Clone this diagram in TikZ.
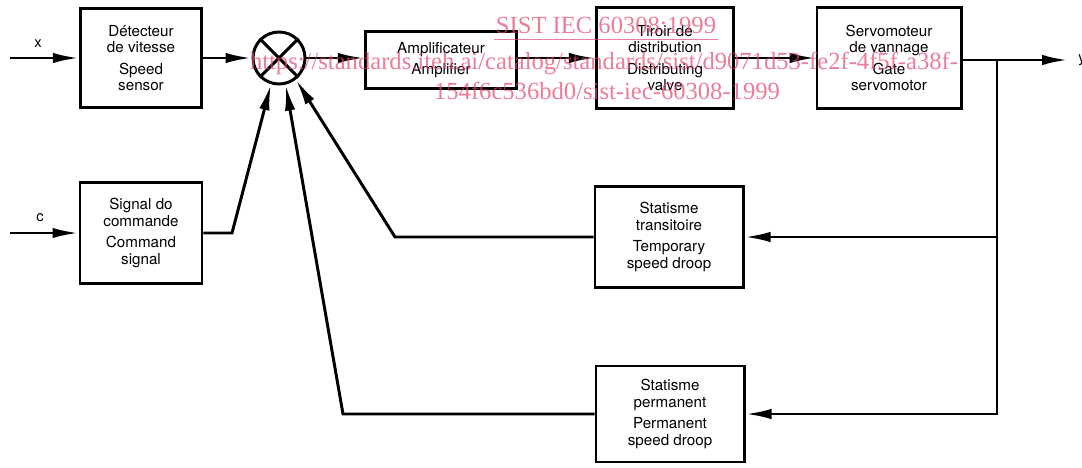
\documentclass[tikz,border=0pt]{standalone}
\usepackage{fontspec}
\setsansfont{TeX Gyre Heros}
\newfontfamily\wmfont{Liberation Serif}
\usepackage{tikz}
\usetikzlibrary{arrows.meta,shapes}
\usetikzlibrary{positioning}
\definecolor{wmpink}{RGB}{225,70,110}

\begin{document}
\begin{tikzpicture}[x=0.025cm, y=-0.025cm, line width=2.1pt, >={Latex[length=6.5mm,width=2.6mm]}]
\tikzstyle{block} = [rectangle, draw = black, line width=2.1pt, align=center, font=\sffamily\fontsize{10.8}{11.5}\selectfont, inner sep=2pt]
\tikzstyle{sig} = [font=\sffamily\fontsize{10.5}{12.5}\selectfont, inner sep=0pt]
\tikzstyle{watermark} = [wmpink, opacity=0.7, font=\wmfont\fontsize{17.5}{20}\selectfont, anchor=base, inner sep=0pt]
\useasboundingbox (0,0) rectangle (1082,467);
% forward path
\node (detector) [block, minimum width=3.03cm, minimum height=2.48cm] at (141,58) {Détecteur\\de vitesse\\[4pt]Speed\\sensor};
\node (sum) [circle, draw, minimum size=1.3cm, inner sep=0pt] at (279,58) {};
\draw (sum.north west) -- (sum.south east);
\draw (sum.north east) -- (sum.south west);
\node (amplifier) [block, minimum width=3.78cm, minimum height=1.43cm] at (441,60) {Amplificateur\\[4pt]Amplifier};
\node (valve) [block, minimum width=3.43cm, minimum height=2.53cm] at (665,58) {Tiroir de\\distribution\\[4pt]Distributing\\valve};
\node (servo) [block, minimum width=3.6cm, minimum height=2.53cm] at (889,58) {Servomoteur\\de vannage\\[4pt]Gate\\servomotor};
% command and feedback blocks
\node (command) [block, minimum width=3.05cm, minimum height=2.53cm] at (141,233) {Signal do\\commande\\[4pt]Command\\signal};
\node (temporary) [block, minimum width=3.7cm, minimum height=2.53cm] at (669,237) {Statisme\\transitoire\\[4pt]Temporary\\speed droop};
\node (permanent) [block, minimum width=3.7cm, minimum height=2.4cm] at (670,414) {Statisme\\permanent\\[4pt]Permanent\\speed droop};
% signals
\node (xlabel) [sig] at (38,44) {x};
\node (clabel) [sig] at (40,218) {c};
\node (ylabel) [sig, anchor=west] at (1077,60) {y};
\coordinate (xin) at (10,58);
\coordinate (cin) at (10,233);
\coordinate (yout) at (1068,60);
\coordinate (branch) at (997,60);
\coordinate (cbend) at (232,233);
\coordinate (tbend) at (395,237);
\coordinate (pbend) at (343,414);
\draw [->] (xin) -- (detector.west);
\draw [->] (detector) -- (sum);
\draw [->] (sum.east) -- (sum.east -| amplifier.west);
\draw [->] (amplifier.east |- valve.west) -- (valve.west);
\draw [->] (valve) -- (servo);
\draw [->] (servo.east |- yout) -- (yout);
\draw [->] (cin) -- (command.west);
\draw [->] (command.east) -- (cbend) -- (sum.-107);
\draw [->] (branch) |- (permanent.east);
\draw [->] (branch |- temporary.east) -- (temporary.east);
\draw [->] (temporary.west) -- (tbend) -- (sum.-52);
\draw [->] (permanent.west) -- (pbend) -- (sum.-76);
% watermark
\node (wmtitle) [watermark] at (606,33) {SIST IEC 60308:1999};
\draw [wmpink, opacity=0.7, line width=0.7pt] ([yshift=-4.5pt]wmtitle.base west) -- ([yshift=-4.5pt]wmtitle.base east);
\node (wmurl) [watermark] at (604,69) {https://standards.iteh.ai/catalog/standards/sist/d9071d53-fe2f-4f5f-a38f-};
\node (wmid) [watermark] at (607,99) {154f6c536bd0/sist-iec-60308-1999};
\end{tikzpicture}
\end{document}
